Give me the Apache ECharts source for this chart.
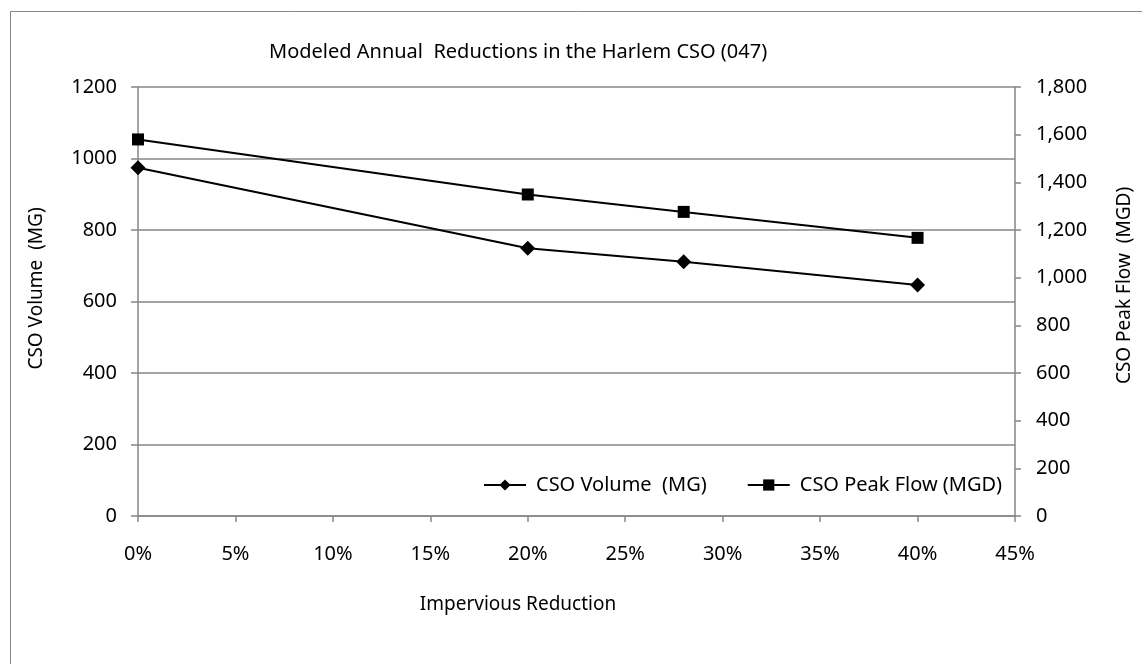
<!DOCTYPE html>
<html>
<head>
<meta charset="utf-8">
<script src="https://cdn.jsdelivr.net/npm/echarts@6/dist/echarts.min.js"></script>
<style>html,body{margin:0;padding:0;background:#fff;}#c{width:1142px;height:664px;}</style>
</head>
<body>
<div id="c"></div>
<script>
var reductions = [0, 0.20, 0.28, 0.40];
var volumeMG = [974, 749, 711, 646];
var peakFlowMGD = [1580, 1349, 1276, 1167];
var xTicks = [0, 0.05, 0.10, 0.15, 0.20, 0.25, 0.30, 0.35, 0.40, 0.45];

var FONT = 'Noto Sans';
var GRAY = '#868686';
var chart = echarts.init(document.getElementById('c'), null, {renderer: 'canvas'});
function pairs(xs, ys) { return xs.map(function (x, i) { return [x, ys[i]]; }); }

chart.setOption({
  backgroundColor: '#fff',
  animation: false,
  textStyle: {fontFamily: FONT, color: '#000'},
  graphic: [{
    type: 'rect', shape: {x: 10.5, y: 11.5, width: 1300, height: 800},
    style: {fill: 'none', stroke: GRAY, lineWidth: 1}, silent: true
  }],
  title: {
    text: 'Modeled Annual  Reductions in the Harlem CSO (047)',
    left: 264, top: 37,
    textStyle: {fontFamily: FONT, fontSize: 20, fontWeight: 'normal', color: '#000'}
  },
  legend: {
    left: 478, top: 470,
    itemWidth: 42, itemHeight: 14, itemGap: 40,
    lineStyle: {width: 2},
    textStyle: {fontFamily: FONT, fontSize: 20, color: '#000', padding: [0, 0, 0, 5]},
    data: ['CSO Volume  (MG)', 'CSO Peak Flow (MGD)']
  },
  grid: {left: 138, right: 120, top: 87, bottom: 148, containLabel: false},
  xAxis: {
    type: 'value', min: 0, max: 0.45, interval: 0.05,
    name: 'Impervious Reduction', nameLocation: 'middle', nameGap: 79,
    nameTextStyle: {fontFamily: FONT, fontSize: 19, color: '#000', padding: [0, 117, 0, 0]},
    axisLine: {show: true, lineStyle: {color: GRAY, width: 1.5}},
    axisTick: {show: true, inside: false, length: 6, lineStyle: {color: GRAY, width: 1.5}},
    axisLabel: {fontFamily: FONT, fontSize: 20, color: '#000', margin: 28,
      formatter: function (v) { return Math.round(v * 100) + '%'; }},
    splitLine: {show: false}
  },
  yAxis: [{
    type: 'value', position: 'left', min: 0, max: 1200, interval: 200,
    name: 'CSO Volume  (MG)', nameLocation: 'middle', nameRotate: 90, nameGap: 92,
    nameTextStyle: {fontFamily: FONT, fontSize: 19, color: '#000', padding: [0, 0, 0, 26]},
    axisLine: {show: true, lineStyle: {color: GRAY, width: 1.5}},
    axisTick: {show: true, inside: false, length: 7, lineStyle: {color: GRAY, width: 1.5}},
    axisLabel: {fontFamily: FONT, fontSize: 20, color: '#000', margin: 21,
      formatter: function (v) { return String(v); }},
    splitLine: {show: true, lineStyle: {color: GRAY, width: 1.5}}
  }, {
    type: 'value', position: 'right', min: 0, max: 1800, interval: 200,
    name: 'CSO Peak Flow  (MGD)', nameLocation: 'middle', nameRotate: 90, nameGap: 100,
    nameTextStyle: {fontFamily: FONT, fontSize: 19, color: '#000', padding: [0, 0, 0, 32]},
    axisLine: {show: true, lineStyle: {color: GRAY, width: 1.5}},
    axisTick: {show: true, inside: false, length: 6, lineStyle: {color: GRAY, width: 1.5}},
    axisLabel: {fontFamily: FONT, fontSize: 20, color: '#000', margin: 21,
      formatter: function (v) { return v.toLocaleString('en-US'); }},
    splitLine: {show: false}
  }],
  series: [{
    name: 'CSO Volume  (MG)', type: 'line', yAxisIndex: 0,
    data: pairs(reductions, volumeMG),
    symbol: 'diamond', symbolSize: 15, showAllSymbol: true,
    lineStyle: {color: '#000', width: 2}, itemStyle: {color: '#000'}
  }, {
    name: 'CSO Peak Flow (MGD)', type: 'line', yAxisIndex: 1,
    data: pairs(reductions, peakFlowMGD),
    symbol: 'rect', symbolSize: 12, showAllSymbol: true,
    lineStyle: {color: '#000', width: 2}, itemStyle: {color: '#000'}
  }]
});
</script>
</body>
</html>
